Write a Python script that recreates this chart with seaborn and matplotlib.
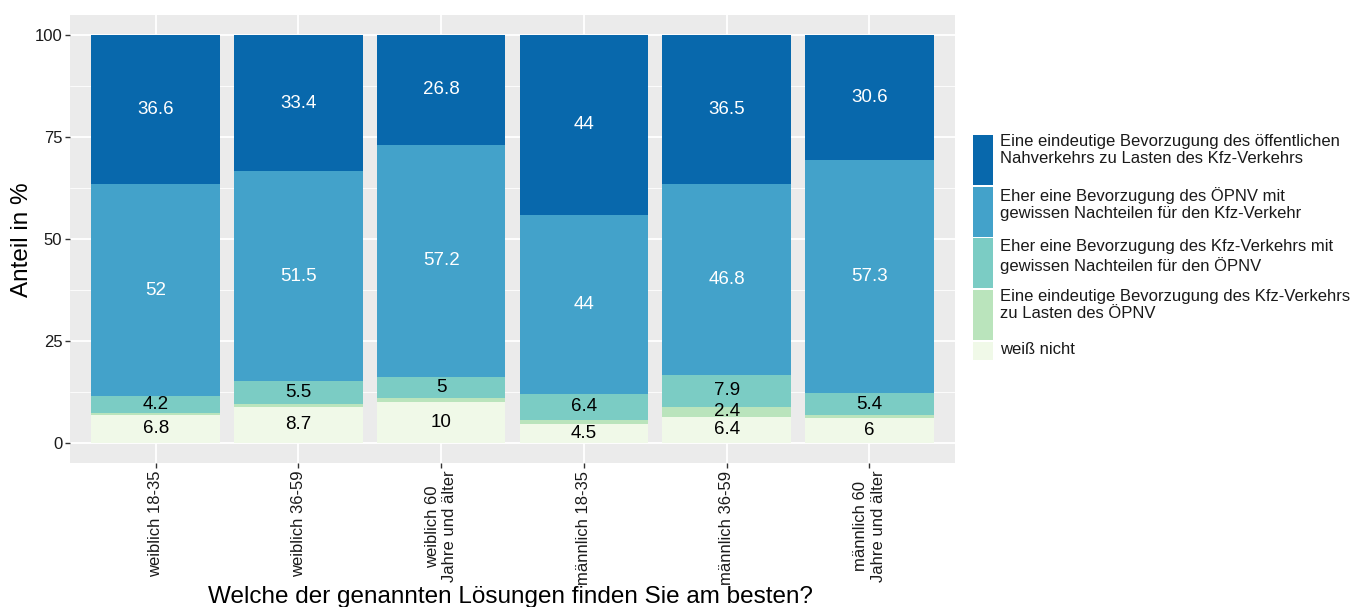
import numpy as np
import pandas as pd
import matplotlib
matplotlib.use("Agg")
import matplotlib.pyplot as plt
import seaborn as sns
from matplotlib.patches import Rectangle

categories = ["weiblich 18-35", "weiblich 36-59", "weiblich 60\nJahre und älter",
              "männlich 18-35", "männlich 36-59", "männlich 60\nJahre und älter"]
series_names = [
    "Eine eindeutige Bevorzugung des öffentlichen\nNahverkehrs zu Lasten des Kfz-Verkehrs",
    "Eher eine Bevorzugung des ÖPNV mit\ngewissen Nachteilen für den Kfz-Verkehr",
    "Eher eine Bevorzugung des Kfz-Verkehrs mit\ngewissen Nachteilen für den ÖPNV",
    "Eine eindeutige Bevorzugung des Kfz-Verkehrs\nzu Lasten des ÖPNV",
    "weiß nicht",
]
oepnv_eindeutig = [36.6, 33.4, 26.8, 44.0, 36.5, 30.6]
oepnv_eher = [52.0, 51.5, 57.2, 44.0, 46.8, 57.3]
kfz_eher = [4.2, 5.5, 5.0, 6.4, 7.9, 5.4]
kfz_eindeutig = [0.4, 0.9, 1.0, 1.1, 2.4, 0.7]
weiss_nicht = [6.8, 8.7, 10.0, 4.5, 6.4, 6.0]
colors = ["#0868ac", "#43a2ca", "#7bccc4", "#bae4bc", "#f0f9e8"]
text_colors = ["white", "white", "black", "black", "black"]

series = [oepnv_eindeutig, oepnv_eher, kfz_eher, kfz_eindeutig, weiss_nicht]

sns.set_theme(style="darkgrid")
plt.rcParams["font.family"] = ["Liberation Sans", "DejaVu Sans"]

W, H = 1352, 607
fig = plt.figure(figsize=(W/100, H/100), dpi=100)
ax = fig.add_axes([70/W, 1-463/H, 885/W, 448/H])
ax.set_facecolor("#EBEBEB")

stack_order = list(range(4, -1, -1))  # weiss_nicht at bottom
cum = np.zeros(len(categories))
cums = {}
bottoms = {}
for i in stack_order:
    bottoms[i] = cum.copy()
    cum = cum + np.array(series[i])
    cums[i] = cum.copy()

for i in range(5):
    df = pd.DataFrame({"cat": categories, "val": cums[i]})
    sns.barplot(data=df, x="cat", y="val", color=colors[i], width=0.9,
                saturation=1, ax=ax, errorbar=None, linewidth=0)

for i in range(5):
    for j, v in enumerate(series[i]):
        if v >= 2:
            ax.text(j, bottoms[i][j] + v/2, f"{v:g}", ha="center", va="center",
                    color=text_colors[i], fontsize=13.5)

ax.set_xlim(-0.6, 5.6)
ax.set_ylim(-5, 105)
ax.set_yticks([0, 25, 50, 75, 100])
ax.set_yticks([12.5, 37.5, 62.5, 87.5], minor=True)
ax.grid(which="major", color="white", linewidth=1.3)
ax.grid(which="minor", axis="y", color="white", linewidth=0.6)
ax.set_axisbelow(True)
for s in ax.spines.values():
    s.set_visible(False)
ax.tick_params(axis="both", which="major", length=3.5, width=1, color="#333333",
               labelsize=12, labelcolor="#1a1a1a", pad=2, bottom=True, left=True)
ax.tick_params(axis="both", which="minor", length=0)
ax.tick_params(axis="x", labelrotation=90)
for lbl in ax.get_xticklabels():
    lbl.set_ha("center")
    lbl.set_va("top")
    lbl.set_multialignment("center")
ax.set_xlabel("")
ax.set_ylabel("")
fig.text(22/W, 1-240/H, "Anteil in %", rotation=90, ha="center", va="center",
         fontsize=17.5, color="black")

fig.text(510/W, 1-603/H, "Welche der genannten Lösungen finden Sie am besten?",
         ha="center", va="baseline", fontsize=17.5, color="black")

# legend (manual layout like ggplot's)
key_spans = [(135, 185), (187, 237), (238, 288), (290, 340), (342, 360)]
text_tops = [143, 196, 248, 298, 351]
for c, (y0, y1), name, ty in zip(colors, key_spans, series_names, text_tops):
    fig.patches.append(Rectangle((973/W, 1-y1/H), 20/W, (y1-y0)/H,
                                 transform=fig.transFigure, facecolor=c,
                                 edgecolor="none", figure=fig))
    fig.text(1000/W, 1-(ty-9)/H, name, ha="left", va="top", fontsize=12,
             linespacing=1.2, color="#1a1a1a")

fig.savefig("out.png", dpi=100)
